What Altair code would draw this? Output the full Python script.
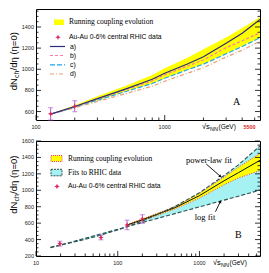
import altair as alt
import pandas as pd

# ---------------- data ----------------
# Panel A: running coupling predictions
a_x = [130, 200, 300, 500, 800, 1000, 1500, 2000, 3000, 4000, 5500]
line_a = [575, 648, 722, 815, 905, 962, 1050, 1118, 1245, 1340, 1470]
line_b = [575, 646, 718, 808, 890, 948, 1030, 1088, 1205, 1270, 1345]
line_c = [575, 642, 708, 790, 865, 915, 995, 1048, 1146, 1215, 1298]
line_d = [575, 635, 695, 770, 840, 886, 962, 1015, 1116, 1180, 1265]
band_a_hi = [580, 660, 745, 845, 945, 1010, 1110, 1190, 1300, 1390, 1492]
band_a_lo = [572, 640, 705, 790, 865, 915, 995, 1050, 1150, 1220, 1300]

# RHIC data (Au-Au 0-6% central)
rhic_sqrts = [19.6, 62.4, 130, 200]
rhic_val = [350, 425, 578, 650]
rhic_err = [30, 28, 58, 52]

# Panel B: fits to RHIC data and running coupling band
fit_x = [15, 20, 30, 50, 100, 200, 500, 1000, 2000, 3000, 5500]
power_fit = [307, 333, 373, 428, 517, 625, 802, 970, 1180, 1310, 1540]
log_fit = [300, 334, 382, 443, 525, 607, 716, 798, 880, 928, 1002]
b_x = [130, 200, 500, 1000, 2000, 3000, 5500]
band_b_hi = [585, 652, 800, 962, 1162, 1280, 1448]
band_b_lo = [570, 630, 772, 905, 1068, 1150, 1240]
band_b_mid = [577, 641, 788, 935, 1116, 1215, 1365]

# tick values / labels
a_xmajor = [100, 1000]
a_xminor = [200, 300, 400, 500, 600, 700, 800, 900, 2000, 3000, 4000, 5000]
a_ymajor = [600, 800, 1000, 1200, 1400]
b_xmajor = [10, 100, 1000]
b_xminor = [20, 30, 40, 50, 60, 70, 80, 90, 200, 300, 400, 500, 600, 700, 800, 900,
            2000, 3000, 4000, 5000]
b_ymajor = [200, 400, 600, 800, 1000, 1200, 1400, 1600]

# ---------------- style ----------------
W = 224
HA = 111
HB = 115
SANS = "Liberation Sans"
SERIF = "Liberation Serif"
STAR = "M0,-1L0.3,-0.3L1,0L0.3,0.3L0,1L-0.3,0.3L-1,0L-0.3,-0.3Z"
RED = "#dd2255"
VIOLET = "#b35cc9"
YELLOW = "#ffff00"
CYAN = "#a6f2f2"
FITC = "#2f4f4f"
LABC = "#222222"

xA = alt.Scale(type="log", domain=[100, 5500], nice=False)
yA = alt.Scale(domain=[520, 1570], nice=False, zero=False)
xB = alt.Scale(type="log", domain=[10, 5500], nice=False)
yB = alt.Scale(domain=[200, 1600], nice=False, zero=False)


def one():
    return pd.DataFrame({"k": [0]})


def X(f, sc):
    return alt.X(f, scale=sc, axis=None)


def Y(f, sc):
    return alt.Y(f, scale=sc, axis=None)


def line(xs, ys, sx, sy, color, dash=None, width=1.2):
    kw = dict(color=color, strokeWidth=width, clip=True)
    if dash:
        kw["strokeDash"] = dash
    df = pd.DataFrame({"x": xs, "y": ys})
    return alt.Chart(df).mark_line(**kw).encode(x=X("x:Q", sx), y=Y("y:Q", sy))


def band(xs, lo, hi, sx, sy, color):
    df = pd.DataFrame({"x": xs, "lo": lo, "hi": hi})
    return alt.Chart(df).mark_area(color=color, opacity=1, clip=True).encode(
        x=X("x:Q", sx), y=Y("lo:Q", sy), y2="hi:Q")


def txt(x, y, s, size, font=SANS, color="black", align="left", **kw):
    return alt.Chart(one()).mark_text(
        text=s, fontSize=size, font=font, color=color, align=align, baseline="middle", **kw
    ).encode(x=alt.value(x), y=alt.value(y))


def hrule(x1, x2, y, color, dash=None, width=1.2):
    kw = dict(color=color, strokeWidth=width)
    if dash:
        kw["strokeDash"] = dash
    return alt.Chart(one()).mark_rule(**kw).encode(
        x=alt.value(x1), x2=alt.value(x2), y=alt.value(y))


def ticks(xmaj, xmin, ymaj, sx, sy, H, ylo, yhi):
    out = []
    for vals, L in ((xmaj, 5), (xmin, 2.5)):
        out.append(alt.Chart(pd.DataFrame({"v": vals})).mark_rule(color="black", strokeWidth=0.8)
                   .encode(x=X("v:Q", sx), y=alt.value(H), y2=alt.value(H - L)))
    yminor = [v for v in range(ylo, yhi + 1, 50) if v not in ymaj]
    for vals, L in ((ymaj, 5), (yminor, 2.5)):
        d = pd.DataFrame({"v": vals})
        out.append(alt.Chart(d).mark_rule(color="black", strokeWidth=0.8)
                   .encode(y=Y("v:Q", sy), x=alt.value(0), x2=alt.value(L)))
        out.append(alt.Chart(d).mark_rule(color="black", strokeWidth=0.8)
                   .encode(y=Y("v:Q", sy), x=alt.value(W), x2=alt.value(W - L)))
    # tick labels
    dx = pd.DataFrame({"v": xmaj, "t": [str(v) for v in xmaj]})
    out.append(alt.Chart(dx).mark_text(fontSize=5.5, font=SANS, color=LABC, align="center",
                                       baseline="middle")
               .encode(x=X("v:Q", sx), y=alt.value(H + 7), text="t:N"))
    dy = pd.DataFrame({"v": ymaj, "t": [str(v) for v in ymaj]})
    out.append(alt.Chart(dy).mark_text(fontSize=5.5, font=SANS, color=LABC, align="right",
                                       baseline="middle")
               .encode(y=Y("v:Q", sy), x=alt.value(-2), text="t:N"))
    return out


def data_layers(xs, vals, errs, sx, sy):
    df = pd.DataFrame({"x": xs, "y": vals,
                       "lo": [v - e for v, e in zip(vals, errs)],
                       "hi": [v + e for v, e in zip(vals, errs)]})
    bars = alt.Chart(df).mark_rule(color=VIOLET, strokeWidth=1).encode(
        x=X("x:Q", sx), y=Y("lo:Q", sy), y2="hi:Q")
    cap1 = alt.Chart(df).mark_tick(orient="horizontal", size=5, thickness=1, color=VIOLET).encode(
        x=X("x:Q", sx), y=Y("lo:Q", sy))
    cap2 = alt.Chart(df).mark_tick(orient="horizontal", size=5, thickness=1, color=VIOLET).encode(
        x=X("x:Q", sx), y=Y("hi:Q", sy))
    pts = alt.Chart(df).mark_point(shape=STAR, filled=True, size=30, color=RED, opacity=1).encode(
        x=X("x:Q", sx), y=Y("y:Q", sy))
    return [bars, cap1, cap2, pts]


def ytitle(y0):
    return [
        txt(-22, y0, "dN", 9.5, angle=270),
        txt(-22, y0, "ch", 7, angle=270, dx=12.4, dy=2.5),
        txt(-22, y0, "/dη (η=0)", 9.5, angle=270, dx=19.9),
    ]


def xtitle(x0, H):
    return [
        txt(x0, H + 7, "√s", 7.5),
        txt(x0 + 8, H + 9, "NN", 5.5),
        txt(x0 + 16.5, H + 7, "(GeV)", 6.5),
    ]


# ---------------- panel A ----------------
A_layers = [
    band(a_x, band_a_lo, band_a_hi, xA, yA, YELLOW),
    line(a_x, line_d, xA, yA, "#e8a070", [4, 2, 1, 2]),
    line(a_x, line_c, xA, yA, "#1fa8e0", [5, 2]),
    line(a_x, line_b, xA, yA, "#ff7aa8", [3, 2]),
    line(a_x, line_a, xA, yA, "#2c2c7a", None, 1.2),
]
A_layers += data_layers(rhic_sqrts[2:], rhic_val[2:], rhic_err[2:], xA, yA)
A_layers += ticks(a_xmajor, a_xminor, a_ymajor, xA, yA, HA, 550, 1550)
A_layers += [
    alt.Chart(one()).mark_rect(color=YELLOW).encode(
        x=alt.value(18), x2=alt.value(28), y=alt.value(10.5), y2=alt.value(16)),
    txt(33, 13.3, "Running coupling evolution", 7.5, SERIF),
    alt.Chart(one()).mark_point(shape=STAR, filled=True, size=30, color=RED, opacity=1).encode(
        x=alt.value(22), y=alt.value(28.3)),
    txt(33, 28.3, "Au-Au 0-6% central RHIC data", 6.8),
    hrule(14, 29, 37.5, "#2c2c7a"),
    txt(34, 37.5, "a)", 6.8),
    hrule(14, 29, 46.5, "#ff7aa8", [3, 2]),
    txt(34, 46.5, "b)", 6.8),
    hrule(14, 29, 55.8, "#1fa8e0", [5, 2]),
    txt(34, 55.8, "c)", 6.8),
    hrule(14, 29, 65, "#e8a070", [4, 2, 1, 2]),
    txt(34, 65, "d)", 6.8),
    txt(W - 27, 92.5, "A", 10, SERIF),
    txt(W - 10.5, HA + 7, "5500", 5.5, color="#e02020", align="center", fontWeight="bold"),
]
A_layers += ytitle(HA * 0.733)
A_layers += xtitle(W - 58, HA)
panelA = alt.layer(*A_layers).properties(width=W, height=HA)

# ---------------- panel B ----------------
B_layers = [
    band(fit_x, log_fit, power_fit, xB, yB, CYAN),
    band(b_x, band_b_lo, band_b_hi, xB, yB, YELLOW),
    line(b_x, band_b_hi, xB, yB, "#ff3070", [1, 1.5], 1),
    line(b_x, band_b_lo, xB, yB, "#ff3070", [1, 1.5], 1),
    line(b_x, band_b_mid, xB, yB, "#111111", None, 1),
    line(fit_x, power_fit, xB, yB, FITC, [4, 2], 1.1),
    line(fit_x, log_fit, xB, yB, FITC, [4, 2], 1.1),
]
B_layers += data_layers(rhic_sqrts, rhic_val, rhic_err, xB, yB)
B_layers += ticks(b_xmajor, b_xminor, b_ymajor, xB, yB, HB, 200, 1600)

# annotation arrows (data coordinates of arrow start and tip)
arrows = pd.DataFrame({
    "x1": [1210, 1570], "y1": [1320, 740],
    "x2": [1800, 1800], "y2": [1170, 862],
    "ang": [130, 24],
})
B_layers += [
    alt.Chart(arrows).mark_rule(color="black", strokeWidth=0.9).encode(
        x=X("x1:Q", xB), y=Y("y1:Q", yB), x2="x2:Q", y2="y2:Q"),
    alt.Chart(arrows).mark_point(shape="triangle-up", filled=True, size=10, color="black",
                                 opacity=1).encode(
        x=X("x2:Q", xB), y=Y("y2:Q", yB), angle=alt.Angle("ang:Q", scale=None)),
    alt.Chart(one()).mark_rect(color=YELLOW, stroke="#ff3070", strokeDash=[1, 1],
                               strokeWidth=1).encode(
        x=alt.value(15), x2=alt.value(26), y=alt.value(14.5), y2=alt.value(20.5)),
    txt(32, 17.6, "Running coupling evolution", 7.5, SERIF),
    alt.Chart(one()).mark_rect(color=CYAN, stroke=FITC, strokeDash=[2, 1],
                               strokeWidth=1).encode(
        x=alt.value(15), x2=alt.value(26), y=alt.value(28.3), y2=alt.value(34.8)),
    txt(32, 31.6, "Fits to RHIC data", 7.5, SERIF),
    alt.Chart(one()).mark_point(shape=STAR, filled=True, size=30, color=RED, opacity=1).encode(
        x=alt.value(21), y=alt.value(45.4)),
    txt(32, 45.4, "Au-Au 0-6% central RHIC data", 6.8),
    txt(173, 19, "power-law fit", 8.5, SERIF, align="center"),
    txt(169, 75.5, "log fit", 8.5, SERIF, align="center"),
    txt(W - 25, 93.5, "B", 10, SERIF),
]
B_layers += ytitle(HB * 0.633)
B_layers += xtitle(W - 47, HB)
panelB = alt.layer(*B_layers).properties(width=W, height=HB)

chart = (
    alt.vconcat(panelA, panelB, spacing=5)
    .properties(padding={"left": 0, "top": 0, "right": 0, "bottom": 0}, background="white")
    .configure_view(stroke="black", strokeWidth=1)
)

chart.save("out.html", embed_options={"renderer": "svg", "actions": False})
